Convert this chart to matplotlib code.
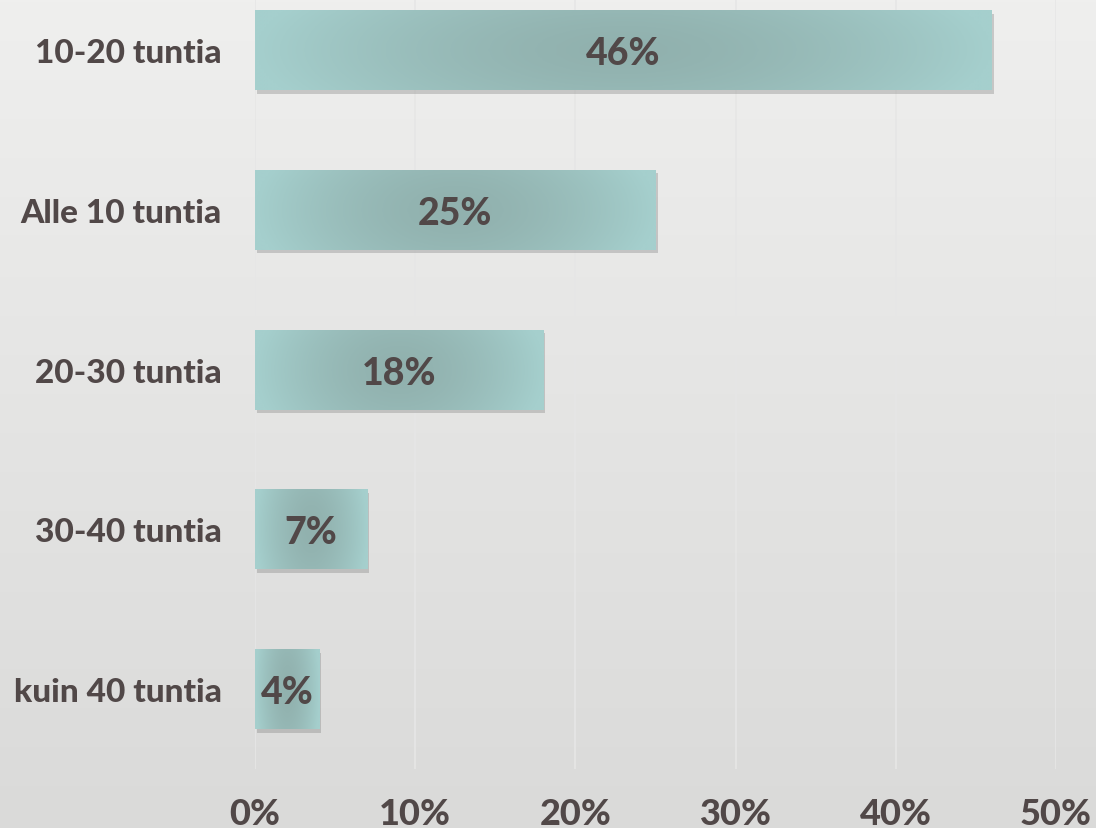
import matplotlib

matplotlib.use("Agg")
import matplotlib.pyplot as plt
import matplotlib.patheffects as pe
import numpy as np
from matplotlib.colors import LinearSegmentedColormap

categories = ["kuin 40 tuntia", "30-40 tuntia", "20-30 tuntia", "Alle 10 tuntia", "10-20 tuntia"]
values = [4, 7, 18, 25, 46]
x_ticks = [0, 10, 20, 30, 40, 50]

TEXT_COLOR = "#514848"
BAR_LIGHT = "#a5cfcd"
BAR_DARK = "#91b1ae"
FONT = "Lato"

plt.rcParams["font.family"] = [FONT, "DejaVu Sans"]

fig = plt.figure(figsize=(10.96, 8.29), dpi=100)

# background: soft vertical gray gradient
bg = fig.add_axes([0, 0, 1, 1], zorder=-10)
bg_cmap = LinearSegmentedColormap.from_list("bg", ["#dadad9", "#efefee"])
bg.imshow(np.linspace(0, 1, 256).reshape(-1, 1), aspect="auto", cmap=bg_cmap,
          origin="lower", extent=[0, 1, 0, 1])
bg.set_axis_off()

ax = fig.add_axes([255 / 1096, 59 / 829, 801 / 1096, 770 / 829])
ax.set_facecolor("none")

pos = np.arange(len(categories))
bars = ax.barh(pos, values, height=0.5, color=BAR_LIGHT, zorder=2,
               path_effects=[pe.SimplePatchShadow(offset=(1.5, -2.5), shadow_rgbFace="#707070", alpha=0.3),
                             pe.Normal()])

bar_cmap = LinearSegmentedColormap.from_list("bar", [BAR_DARK, BAR_LIGHT])
for bar, val in zip(bars, values):
    x0, y0 = bar.get_x(), bar.get_y()
    w, h = bar.get_width(), bar.get_height()
    gx, gy = np.meshgrid(np.linspace(-1, 1, 300), np.linspace(-1, 1, 60))
    t = np.sqrt(gx ** 2 + 0.15 * gy ** 2)
    t = np.clip(t, 0, 1) ** 1.6
    im = ax.imshow(t, extent=[x0, x0 + w, y0, y0 + h], aspect="auto", cmap=bar_cmap,
                   vmin=0, vmax=1, zorder=3, interpolation="bilinear")
    im.set_clip_path(bar)
    ax.text(x0 + w / 2, y0 + h / 2, f"{val}%", ha="center", va="center_baseline",
            fontsize=27, fontweight="black", color=TEXT_COLOR, zorder=4)

ax.set_xlim(0, 50)
ax.set_ylim(-0.5, 4.32)
ax.set_xticks(x_ticks)
ax.set_xticklabels([f"{v}%" for v in x_ticks])
ax.set_yticks(pos)
ax.set_yticklabels(categories)
ax.tick_params(axis="y", length=0, labelsize=24, labelcolor=TEXT_COLOR, pad=24)
ax.tick_params(axis="x", length=0, labelsize=26, labelcolor=TEXT_COLOR, pad=20)
for lbl in ax.get_xticklabels() + ax.get_yticklabels():
    lbl.set_fontweight("black")

ax.grid(axis="x", color="#e6e6e6", linewidth=1.2, zorder=0)
ax.set_axisbelow(True)
for spine in ax.spines.values():
    spine.set_visible(False)

fig.savefig("out.png", dpi=100)
